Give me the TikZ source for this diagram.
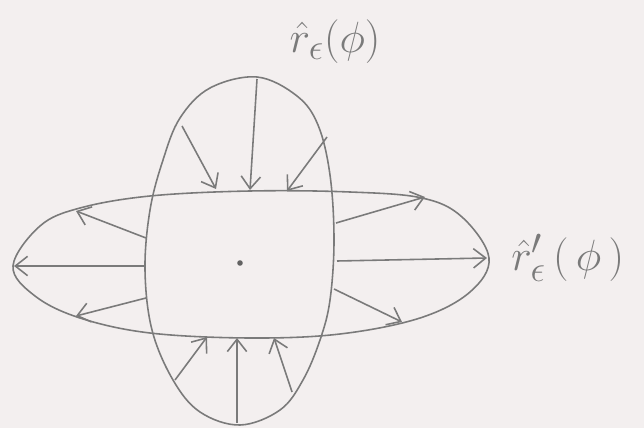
\documentclass[tikz,border=0pt]{standalone}
\usepackage{amsmath, amssymb}
\usepackage{xcolor}
\usepackage{tikz}
\usetikzlibrary{arrows.meta, positioning}

\definecolor{pencil}{RGB}{122,122,122}
\definecolor{paper}{RGB}{243,239,239}

\tikzset{
    sketch/.style={draw=pencil, line width=0.9pt},
    ray/.style={sketch, ->},
    lbl/.style={text=pencil, font=\fontsize{30}{34}\selectfont, inner sep=0pt}
}

\begin{document}
\begin{tikzpicture}[x=0.02cm, y=-0.02cm, >={Straight Barb[length=7pt, width=11pt]}]
    % Paper
    \fill[paper] (0,0) rectangle (644,428);
    \useasboundingbox (0,0) rectangle (644,428);

    % Vertical oval r_eps
    \draw[sketch] plot[smooth cycle, tension=0.6] coordinates {
        (257,77) (297,96) (318,125) (330,175) (334,240) (330,300)
        (320,340) (303,380) (280,410) (240,425) (200,412) (173,380)
        (152,330) (145,270) (150,210) (163,160) (180,118) (210,88)};

    % Horizontal oval r'_eps
    \draw[sketch] plot[smooth cycle, tension=0.6] coordinates {
        (13,266) (40,226) (80,208) (150,196) (250,191) (350,192)
        (422,198) (462,217) (489,258) (470,292) (420,318) (340,334)
        (250,338) (150,333) (80,318) (35,296)};

    % Centre
    \fill[pencil!80!black] (240,263) circle (2.8) coordinate (o);

    % Inward rays (top)
    \coordinate (t1) at (182,126);  \coordinate (T1) at (216,189);
    \coordinate (t2) at (257,79);   \coordinate (T2) at (250,190);
    \coordinate (t3) at (327,137);  \coordinate (T3) at (287,191);
    % Inward rays (bottom)
    \coordinate (b1) at (175,380);  \coordinate (B1) at (207,337);
    \coordinate (b2) at (237,423);  \coordinate (B2) at (237,338);
    \coordinate (b3) at (292,392);  \coordinate (B3) at (274,338);
    % Outward rays (left)
    \coordinate (l1) at (146,238);  \coordinate (L1) at (76,211);
    \coordinate (l2) at (145,266);  \coordinate (L2) at (14,266);
    \coordinate (l3) at (146,298);  \coordinate (L3) at (76,316);
    % Outward rays (right)
    \coordinate (r1) at (336,223);  \coordinate (R1) at (425,197);
    \coordinate (r2) at (337,261);  \coordinate (R2) at (487,258);
    \coordinate (r3) at (334,289);  \coordinate (R3) at (402,322);

    \foreach \s/\e in {t1/T1, t2/T2, t3/T3, b1/B1, b2/B2, b3/B3,
                       l1/L1, l2/L2, l3/L3, r1/R1, r2/R2, r3/R3}
        \draw[ray] (\s) -- (\e);

    % Labels
    \node[lbl] (rhat) at (335,42) {$\hat{r}_\epsilon(\phi)$};
    \node[lbl, right=24 of R2] (rhatp) {$\hat{r}'_\epsilon\,(\,\phi\,)$};
\end{tikzpicture}
\end{document}
